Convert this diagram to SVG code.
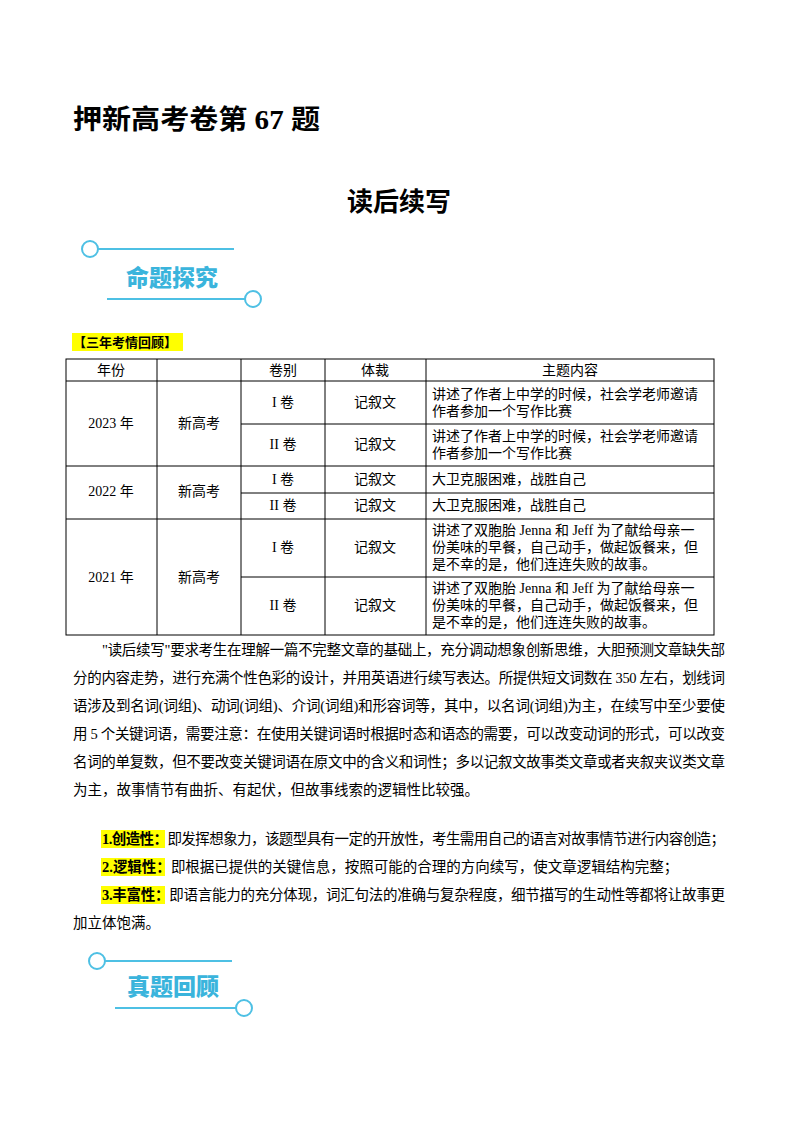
<svg xmlns="http://www.w3.org/2000/svg" width="800" height="1132" viewBox="0 0 800 1132">
<style>
.t{font-family:"Liberation Serif","Noto Sans CJK SC",serif;font-size:14px;fill:#000}
.c{text-anchor:middle}
.b{font-size:14.5px}
.bn{font-family:"Noto Sans CJK SC",sans-serif;font-weight:900;font-size:23px;fill:#3ab4dc;text-anchor:middle}
.ln{stroke:#4ec0e4;stroke-width:2;fill:none}
.g{stroke:#000;stroke-width:1;fill:none}
.hl{fill:#ffff00}
</style>
<rect width="800" height="1132" fill="#fff"/>
<text x="73" y="129" textLength="247" lengthAdjust="spacingAndGlyphs" style="font-family:'Liberation Serif','Noto Sans CJK SC',serif;font-size:27px;font-weight:bold">押新高考卷第 67 题</text>
<text x="399" y="211" text-anchor="middle" style="font-family:'Noto Sans CJK SC',sans-serif;font-size:26px;font-weight:bold">读后续写</text>
<g id="banner1">
<circle cx="90" cy="249" r="8" class="ln"/><line x1="98" y1="249" x2="234" y2="249" class="ln"/>
<text x="172" y="286" class="bn">命题探究</text>
<line x1="107" y1="299" x2="245" y2="299" class="ln"/><circle cx="253" cy="299" r="8" class="ln"/>
</g>
<rect x="72" y="333" width="111" height="18" class="hl"/>
<text x="73" y="347" class="t" style="font-weight:bold;font-family:'Noto Sans CJK SC',sans-serif;font-size:13px">【三年考情回顾】</text>
<g id="table">
<rect x="66" y="359" width="648" height="276" class="g"/>
<line x1="157" y1="359" x2="157" y2="635" class="g"/>
<line x1="241" y1="359" x2="241" y2="635" class="g"/>
<line x1="325" y1="359" x2="325" y2="635" class="g"/>
<line x1="426" y1="359" x2="426" y2="635" class="g"/>
<line x1="66" y1="381" x2="714" y2="381" class="g"/>
<line x1="241" y1="424" x2="714" y2="424" class="g"/>
<line x1="66" y1="466" x2="714" y2="466" class="g"/>
<line x1="241" y1="493" x2="714" y2="493" class="g"/>
<line x1="66" y1="519" x2="714" y2="519" class="g"/>
<line x1="241" y1="577" x2="714" y2="577" class="g"/>
<text x="111" y="375" class="t c">年份</text>
<text x="283" y="375" class="t c">卷别</text>
<text x="375" y="375" class="t c">体裁</text>
<text x="570" y="375" class="t c">主题内容</text>
<text x="111" y="428" class="t c">2023 年</text><text x="199" y="428" class="t c">新高考</text>
<text x="283" y="407" class="t c">I 卷</text><text x="375" y="407" class="t c">记叙文</text>
<text x="432" y="399" class="t">讲述了作者上中学的时候，社会学老师邀请</text><text x="432" y="416" class="t">作者参加一个写作比赛</text>
<text x="283" y="449" class="t c">II 卷</text><text x="375" y="449" class="t c">记叙文</text>
<text x="432" y="441" class="t">讲述了作者上中学的时候，社会学老师邀请</text><text x="432" y="458" class="t">作者参加一个写作比赛</text>
<text x="111" y="496" class="t c">2022 年</text><text x="199" y="496" class="t c">新高考</text>
<text x="283" y="484" class="t c">I 卷</text><text x="375" y="484" class="t c">记叙文</text><text x="432" y="484" class="t">大卫克服困难，战胜自己</text>
<text x="283" y="510" class="t c">II 卷</text><text x="375" y="510" class="t c">记叙文</text><text x="432" y="510" class="t">大卫克服困难，战胜自己</text>
<text x="111" y="582" class="t c">2021 年</text><text x="199" y="582" class="t c">新高考</text>
<text x="283" y="552" class="t c">I 卷</text><text x="375" y="552" class="t c">记叙文</text>
<text x="432" y="535" class="t">讲述了双胞胎 Jenna 和 Jeff 为了献给母亲一</text><text x="432" y="552" class="t">份美味的早餐，自己动手，做起饭餐来，但</text><text x="432" y="569" class="t">是不幸的是，他们连连失败的故事。</text>
<text x="283" y="610" class="t c">II 卷</text><text x="375" y="610" class="t c">记叙文</text>
<text x="432" y="593" class="t">讲述了双胞胎 Jenna 和 Jeff 为了献给母亲一</text><text x="432" y="610" class="t">份美味的早餐，自己动手，做起饭餐来，但</text><text x="432" y="627" class="t">是不幸的是，他们连连失败的故事。</text>
</g>
<g id="body" class="t b">
<text x="102" y="655" textLength="623" lengthAdjust="spacing">"读后续写"要求考生在理解一篇不完整文章的基础上，充分调动想象创新思维，大胆预测文章缺失部</text>
<text x="73" y="683" textLength="652" lengthAdjust="spacing">分的内容走势，进行充满个性色彩的设计，并用英语进行续写表达。所提供短文词数在 350 左右，划线词</text>
<text x="73" y="711" textLength="652" lengthAdjust="spacing">语涉及到名词(词组)、动词(词组)、介词(词组)和形容词等，其中，以名词(词组)为主，在续写中至少要使</text>
<text x="73" y="739" textLength="652" lengthAdjust="spacing">用 5 个关键词语，需要注意：在使用关键词语时根据时态和语态的需要，可以改变动词的形式，可以改变</text>
<text x="73" y="767" textLength="652" lengthAdjust="spacing">名词的单复数，但不要改变关键词语在原文中的含义和词性；多以记叙文故事类文章或者夹叙夹议类文章</text>
<text x="73" y="795">为主，故事情节有曲折、有起伏，但故事线索的逻辑性比较强。</text>
<rect x="101" y="830" width="64" height="18" class="hl"/>
<text x="102" y="844" textLength="623" lengthAdjust="spacing"><tspan font-weight="bold">1.创造性：</tspan>即发挥想象力，该题型具有一定的开放性，考生需用自己的语言对故事情节进行内容创造；</text>
<rect x="101" y="858" width="64" height="18" class="hl"/>
<text x="102" y="872"><tspan font-weight="bold">2.逻辑性：</tspan>即根据已提供的关键信息，按照可能的合理的方向续写，使文章逻辑结构完整；</text>
<rect x="101" y="886" width="64" height="18" class="hl"/>
<text x="102" y="900" textLength="623" lengthAdjust="spacing"><tspan font-weight="bold">3.丰富性：</tspan>即语言能力的充分体现，词汇句法的准确与复杂程度，细节描写的生动性等都将让故事更</text>
<text x="73" y="928">加立体饱满。</text>
</g>
<g id="banner2">
<circle cx="97" cy="961" r="8" class="ln"/><line x1="105" y1="961" x2="232" y2="961" class="ln"/>
<text x="173" y="995" class="bn">真题回顾</text>
<line x1="115" y1="1008" x2="236" y2="1008" class="ln"/><circle cx="244" cy="1008" r="8" class="ln"/>
</g>
</svg>
